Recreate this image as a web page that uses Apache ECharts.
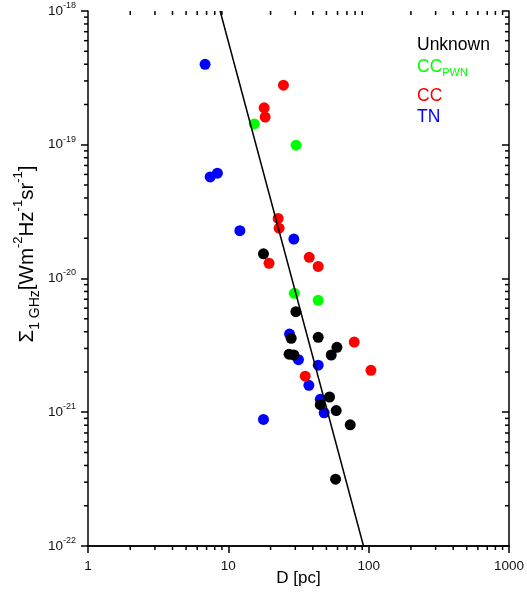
<!DOCTYPE html>
<html>
<head>
<meta charset="utf-8">
<script src="https://cdn.jsdelivr.net/npm/echarts@6/dist/echarts.min.js"></script>
<style>
html,body{margin:0;padding:0;background:#fff;}
#chart{width:527px;height:592px;}
</style>
</head>
<body>
<div id="chart"></div>
<script>
// Data: D [pc] and Sigma_1GHz [W m^-2 Hz^-1 sr^-1]
const tnD = [6.83, 7.42, 8.36, 12.08, 29.3, 27.3, 31.6, 43.7, 37.5, 45.2, 48.2, 17.8];
const tnS = [3.99e-19, 5.75e-20, 6.13e-20, 2.28e-20, 1.97e-20, 3.84e-21, 2.47e-21, 2.25e-21, 1.59e-21, 1.25e-21, 9.91e-22, 8.83e-22];

const ccD = [24.7, 18.0, 18.3, 22.65, 23.0, 19.5, 37.7, 43.7, 78.9, 103.8, 35.3];
const ccS = [2.79e-19, 1.89e-19, 1.61e-19, 2.81e-20, 2.38e-20, 1.30e-20, 1.44e-20, 1.23e-20, 3.35e-21, 2.06e-21, 1.86e-21];

const pwnD = [15.3, 30.4, 29.5, 43.7];
const pwnS = [1.43e-19, 9.93e-20, 7.75e-21, 6.87e-21];

const unkD = [17.8, 30.3, 28.05, 43.7, 59.4, 27.1, 29.3, 54.1, 52.6, 45.2, 58.7, 73.9, 58.1];
const unkS = [1.53e-20, 5.65e-21, 3.57e-21, 3.63e-21, 3.06e-21, 2.72e-21, 2.68e-21, 2.68e-21, 1.30e-21, 1.14e-21, 1.03e-21, 8.06e-22, 3.16e-22];

const fitD = [8.74, 91.9];
const fitS = [1e-18, 1e-22];

const legendNames = ['Unknown', 'CC_PWN', 'CC', 'TN'];
const xMajorTicks = [1, 10, 100, 1000];
const yMajorTicks = [1e-22, 1e-21, 1e-20, 1e-19, 1e-18];
const minorMultipliers = [2, 3, 4, 5, 6, 7, 8, 9];

(function () {
const zip = (a, b) => a.map((v, i) => [v, b[i]]);
const xMinor = [];
xMajorTicks.slice(0, -1).forEach(d => minorMultipliers.forEach(m => xMinor.push(d * m)));
const yMinor = [];
yMajorTicks.slice(0, -1).forEach(d => minorMultipliers.forEach(m => yMinor.push(d * m)));

const AX = '#000';
const LW = 1.5;
const labelColor = '#111';
const FONT = 'Liberation Sans, Arial, sans-serif';
// tiny margin below the lowest decade so the log scale keeps its 10^-22 tick
const yMin = yMajorTicks[0] * 0.99999;
const yMax = yMajorTicks[yMajorTicks.length - 1];

function supLabel(v) {
  const e = Math.round(Math.log10(v));
  return '{b|10}{s|' + e + '}';
}

const chart = echarts.init(document.getElementById('chart'), null, {renderer: 'canvas'});

const minorLen = 4;
const SYM = 11;
const yAxisCommon = {
  type: 'log', logBase: 10, min: yMin, max: yMax,
  axisLine: {show: true, lineStyle: {color: AX, width: LW}},
  splitLine: {show: false}
};
const option = {
  animation: false,
  backgroundColor: '#fff',
  grid: {left: 88, right: 18, top: 11, bottom: 46, containLabel: false, outerBoundsMode: 'none'},
  xAxis: [
    {
      type: 'log', logBase: 10, min: xMajorTicks[0], max: xMajorTicks[xMajorTicks.length - 1], position: 'bottom',
      axisLine: {show: true, lineStyle: {color: AX, width: LW}},
      axisTick: {show: true, inside: false, length: 7, lineStyle: {color: AX, width: LW}},
      axisLabel: {show: true, margin: 13, color: labelColor, fontFamily: FONT, fontSize: 13.5,
        hideOverlap: false,
        formatter: v => String(Math.round(v))},
      splitLine: {show: false},
      name: 'D [pc]', nameLocation: 'middle', nameGap: 24, nameMoveOverlap: false,
      nameTextStyle: {color: '#000', fontFamily: FONT, fontSize: 17}
    },
    {
      type: 'log', logBase: 10, min: xMajorTicks[0], max: xMajorTicks[xMajorTicks.length - 1], position: 'top',
      axisLine: {show: true, lineStyle: {color: AX, width: LW}},
      axisTick: {show: true, inside: true, length: 7, lineStyle: {color: AX, width: LW}},
      axisLabel: {show: false}, splitLine: {show: false}
    }
  ],
  yAxis: [
    Object.assign({}, yAxisCommon, {
      position: 'left',
      axisTick: {show: true, inside: false, length: 7, lineStyle: {color: AX, width: LW}},
      axisLabel: {
        show: true, margin: 12, color: labelColor, fontFamily: FONT,
        hideOverlap: false,
        formatter: supLabel,
        rich: {
          b: {fontSize: 13.5, fontFamily: FONT, color: labelColor, lineHeight: 20, verticalAlign: 'middle'},
          s: {fontSize: 9, fontFamily: FONT, color: labelColor, lineHeight: 10, verticalAlign: 'top'}
        }
      }
    }),
    Object.assign({}, yAxisCommon, {
      position: 'right',
      axisTick: {show: true, inside: true, length: 7, lineStyle: {color: AX, width: LW}},
      axisLabel: {show: false}
    })
  ],
  series: [
    {name: 'TN', type: 'scatter', symbol: 'circle', symbolSize: SYM, itemStyle: {color: '#0000ff', opacity: 1}, data: zip(tnD, tnS), z: 3},
    {name: 'CC', type: 'scatter', symbol: 'circle', symbolSize: SYM, itemStyle: {color: '#ff0000', opacity: 1}, data: zip(ccD, ccS), z: 3},
    {name: 'CC_PWN', type: 'scatter', symbol: 'circle', symbolSize: SYM, itemStyle: {color: '#00ff00', opacity: 1}, data: zip(pwnD, pwnS), z: 3},
    {name: 'Unknown', type: 'scatter', symbol: 'circle', symbolSize: SYM, itemStyle: {color: '#000000', opacity: 1}, data: zip(unkD, unkS), z: 3},
    {name: 'fit', type: 'line', data: zip(fitD, fitS), symbol: 'none', lineStyle: {color: '#000', width: 1.5}, z: 4, silent: true}
  ]
};
chart.setOption(option);

// Minor ticks placed through the axes' own scales
const gTop = chart.convertToPixel({yAxisIndex: 0}, yMax);
const gBottom = chart.convertToPixel({yAxisIndex: 0}, yMajorTicks[0]);
const gLeft = chart.convertToPixel({xAxisIndex: 0}, xMajorTicks[0]);
const gRight = chart.convertToPixel({xAxisIndex: 0}, xMajorTicks[xMajorTicks.length - 1]);
const tickEls = [];
const mk = (x1, y1, x2, y2) => ({type: 'line', silent: true, z: 10,
  shape: {x1: x1, y1: y1, x2: x2, y2: y2}, style: {stroke: AX, lineWidth: LW, fill: null}});
xMinor.forEach(v => {
  const x = chart.convertToPixel({xAxisIndex: 0}, v);
  tickEls.push(mk(x, gBottom, x, gBottom + minorLen));
  tickEls.push(mk(x, gTop, x, gTop + minorLen));
});
yMinor.forEach(v => {
  const y = chart.convertToPixel({yAxisIndex: 0}, v);
  tickEls.push(mk(gLeft, y, gLeft - minorLen, y));
  tickEls.push(mk(gRight, y, gRight - minorLen, y));
});

const textEls = [
  {
    type: 'text', x: 27, y: 254, rotation: Math.PI / 2,
    style: {
      text: '{m|Σ}{sub|1 GHz}{m|[Wm}{sup|-2}{m|Hz}{sup|-1}{m|sr}{sup|-1}{m|]}',
      align: 'center', verticalAlign: 'middle',
      rich: {
        m: {fontSize: 20.5, fontFamily: FONT, fill: '#000', lineHeight: 30, verticalAlign: 'middle'},
        sub: {fontSize: 14, fontFamily: FONT, fill: '#000', lineHeight: 14, verticalAlign: 'bottom'},
        sup: {fontSize: 13, fontFamily: FONT, fill: '#000', lineHeight: 14, verticalAlign: 'top'}
      }
    }
  },
  {type: 'text', x: 417, y: 45, style: {text: legendNames[0], fill: '#000', fontSize: 17.5, fontFamily: FONT, verticalAlign: 'middle'}},
  {type: 'text', x: 417, y: 67, style: {
    text: '{a|CC}{s|PWN}', verticalAlign: 'middle',
    rich: {
      a: {fontSize: 17.5, fontFamily: FONT, fill: '#00ff00', lineHeight: 22, verticalAlign: 'middle'},
      s: {fontSize: 11, fontFamily: FONT, fill: '#00ff00', lineHeight: 11, verticalAlign: 'bottom'}
    }}},
  {type: 'text', x: 417, y: 96.5, style: {text: legendNames[2], fill: '#ff0000', fontSize: 17.5, fontFamily: FONT, verticalAlign: 'middle'}},
  {type: 'text', x: 417, y: 117.5, style: {text: legendNames[3], fill: '#0000ff', fontSize: 17.5, fontFamily: FONT, verticalAlign: 'middle'}}
];

chart.setOption({graphic: {elements: textEls.concat(tickEls)}});
})();
</script>
</body>
</html>
